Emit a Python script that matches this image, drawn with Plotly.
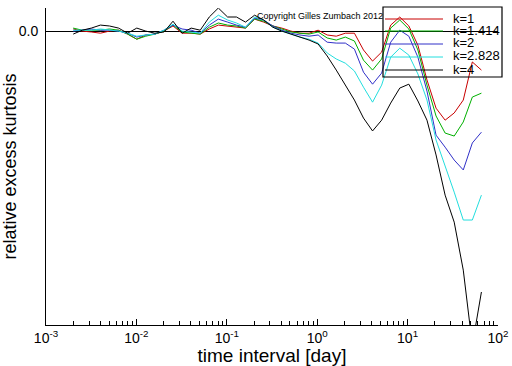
import plotly.graph_objects as go

# time interval [day]
time_interval = [0.002, 0.00252, 0.00317, 0.004, 0.00504, 0.00635, 0.008, 0.0101,
                 0.0127, 0.016, 0.0202, 0.0254, 0.032, 0.0403, 0.0508, 0.064,
                 0.0806, 0.102, 0.128, 0.161, 0.203, 0.256, 0.323, 0.406,
                 0.512, 0.645, 0.813, 1.024, 1.29, 1.625, 2.048, 2.58,
                 3.251, 4.096, 5.161, 6.502, 8.192, 10.32, 13.0, 16.38,
                 20.64, 26.0, 32.77, 41.29, 52.0, 65.54]

k_1 = [0.007, 0.0, -0.003, -0.007, 0.0, 0.003, -0.01, -0.027, -0.013, -0.01, 0.0, 0.017,
       -0.007, -0.007, -0.01, 0.007, 0.02, 0.017, 0.013, 0.01, 0.04, 0.03, 0.017, 0.01,
       0.0, -0.007, -0.007, 0.003, -0.013, -0.017, -0.007, -0.007, -0.063, -0.1, -0.07,
       0.02, 0.047, 0.017, -0.047, -0.163, -0.257, -0.297, -0.273, -0.23, -0.103, -0.13]
k_1414 = [0.01, 0.003, 0.003, 0.003, 0.007, 0.003, -0.01, -0.027, -0.017, -0.01, 0.0, 0.02,
          -0.003, -0.007, -0.01, 0.013, 0.027, 0.02, 0.017, 0.01, 0.04, 0.033, 0.017, 0.007,
          -0.003, -0.007, -0.01, -0.003, -0.023, -0.03, -0.02, -0.033, -0.097, -0.13, -0.093,
          0.01, 0.037, 0.007, -0.063, -0.18, -0.283, -0.34, -0.35, -0.303, -0.22, -0.207]
k_2 = [0.0, 0.003, 0.007, 0.003, 0.003, 0.0, -0.007, -0.02, -0.013, -0.01, 0.003, 0.02,
       0.007, 0.003, -0.007, 0.02, 0.04, 0.03, 0.02, 0.013, 0.043, 0.037, 0.017, 0.003,
       -0.007, -0.013, -0.017, -0.013, -0.037, -0.04, -0.04, -0.06, -0.137, -0.177, -0.14,
       -0.037, 0.003, -0.017, -0.087, -0.2, -0.347, -0.387, -0.43, -0.463, -0.373, -0.337]
k_2828 = [0.003, 0.003, 0.003, 0.007, 0.003, 0.0, -0.007, -0.017, -0.013, -0.01, 0.003, 0.023,
          0.0, -0.003, -0.007, 0.03, 0.053, 0.037, 0.027, 0.013, 0.047, 0.037, 0.013, 0.0,
          -0.01, -0.02, -0.027, -0.04, -0.073, -0.093, -0.107, -0.133, -0.187, -0.237, -0.18,
          -0.087, -0.057, -0.08, -0.143, -0.23, -0.363, -0.447, -0.537, -0.63, -0.63, -0.547]
k_4 = [-0.01, 0.003, 0.01, 0.02, 0.017, 0.01, -0.007, 0.01, 0.0, -0.007, -0.003, 0.033,
       -0.007, 0.01, 0.003, 0.047, 0.077, 0.047, 0.047, 0.03, 0.053, 0.037, 0.013, 0.0,
       -0.01, -0.02, -0.03, -0.043, -0.083, -0.13, -0.18, -0.23, -0.29, -0.333, -0.297,
       -0.24, -0.19, -0.177, -0.233, -0.297, -0.413, -0.547, -0.637, -0.797, -1.047, -0.87]

series_names = ["k=1", "k=1.414", "k=2", "k=2.828", "k=4"]
series_values = [k_1, k_1414, k_2, k_2828, k_4]
series_colors = ["#c80000", "#00b000", "#3030c8", "#22dede", "#000000"]

x_tick_vals = [0.001, 0.01, 0.1, 1, 10, 100]
x_tick_text = ["10<sup>-3</sup>", "10<sup>-2</sup>", "10<sup>-1</sup>",
               "10<sup>0</sup>", "10<sup>1</sup>", "10<sup>2</sup>"]
y_tick_vals = [0.0]
y_tick_text = ["0.0"]

FONT = "Liberation Sans, Arial, sans-serif"

fig = go.Figure()
for name, vals, col in zip(series_names, series_values, series_colors):
    fig.add_trace(go.Scatter(x=time_interval, y=vals, mode="lines", name=name,
                             line=dict(color=col, width=1), showlegend=False))

# legend drawn as a box with line samples (compact row spacing like the original)
L, T = 46, 8
W, H = 452, 317
def px(xp):
    return (xp - L) / W
def py(yp):
    return (T + H - yp) / H

shapes = [dict(type="rect", xref="paper", yref="paper", x0=px(383), x1=px(502),
               y0=py(77), y1=py(7), line=dict(color="black", width=1.2),
               fillcolor="rgba(0,0,0,0)", layer="above")]
annotations = []
row_y = [19, 31, 44, 57, 70]
for name, col, ry in zip(series_names, series_colors, row_y):
    shapes.append(dict(type="line", xref="paper", yref="paper", x0=px(385), x1=px(443),
                       y0=py(ry), y1=py(ry), line=dict(color=col, width=1), layer="above"))
    annotations.append(dict(xref="paper", yref="paper", x=px(451), y=py(ry - 1),
                            text=name, showarrow=False, xanchor="left", yanchor="middle",
                            font=dict(family=FONT, size=13, color="black")))
annotations.append(dict(xref="paper", yref="paper", x=px(255), y=py(16),
                        text="Copyright Gilles Zumbach 2012", showarrow=False,
                        xanchor="left", yanchor="middle",
                        font=dict(family=FONT, size=9, color="black")))

fig.update_layout(
    width=512, height=366,
    margin=dict(l=L, r=512 - L - W, t=T, b=366 - T - H, pad=0, autoexpand=False),
    paper_bgcolor="white", plot_bgcolor="white",
    font=dict(family=FONT, color="black"),
    shapes=shapes, annotations=annotations,
    showlegend=False,
)
fig.update_xaxes(
    type="log", range=[-3, 2], showgrid=False, zeroline=False, automargin=False,
    showline=True, linecolor="black", linewidth=1,
    tickvals=x_tick_vals, ticktext=x_tick_text,
    ticks="inside", ticklen=6, tickcolor="black",
    minor=dict(ticks="inside", ticklen=4, tickcolor="black", dtick="D1", showgrid=False),
    tickfont=dict(family=FONT, size=14),
    title=dict(text="time interval [day]", font=dict(family=FONT, size=19), standoff=0),
)
fig.update_yaxes(
    range=[-0.98, 0.077], showgrid=False, automargin=False,
    zeroline=True, zerolinecolor="black", zerolinewidth=1,
    showline=True, linecolor="black", linewidth=1,
    tickvals=y_tick_vals, ticktext=y_tick_text, ticks="", ticklabelstandoff=4,
    tickfont=dict(family=FONT, size=14),
    title=dict(text="relative excess kurtosis", font=dict(family=FONT, size=18), standoff=6),
)

fig.write_html("out.html", config={"displayModeBar": False},
               post_script="document.body.style.margin='0';document.body.style.padding='0';")
